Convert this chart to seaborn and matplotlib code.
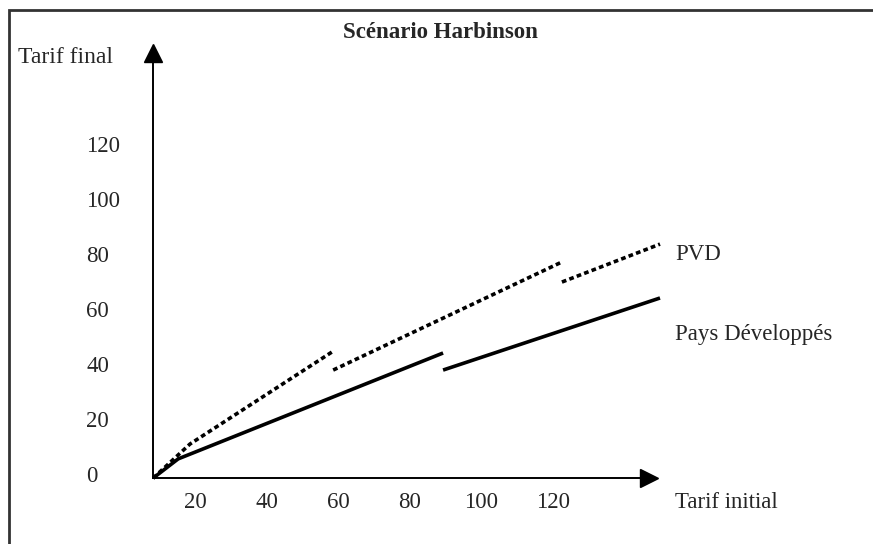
import numpy as np
import pandas as pd
import matplotlib.pyplot as plt
import matplotlib.patches as mpatches
import seaborn as sns

# values (tarif initial -> tarif final)
dev_x1 = [8.3, 15.3, 89.3]
dev_y1 = [-1.5, 5.5, 44.0]
dev_x2 = [89.3, 149.9]
dev_y2 = [37.8, 64.0]

pvd_x1 = [8.3, 18.6, 58.3]
pvd_y1 = [-1.5, 10.9, 44.4]
pvd_x2 = [58.6, 122.5]
pvd_y2 = [37.8, 77.1]
pvd_x3 = [122.5, 149.9]
pvd_y3 = [69.8, 83.6]

x_ticks = [20, 40, 60, 80, 100, 120]
y_ticks = [0, 20, 40, 60, 80, 100, 120]

# build one long table, one segment per break in the formula
def to_frame(segments, name):
    rows = []
    for i, (xs, ys) in enumerate(segments):
        for x, y in zip(xs, ys):
            rows.append({'groupe': name, 'segment': f"{name}_{i}",
                         'tarif_initial': x, 'tarif_final': y})
    return pd.DataFrame(rows)

df = pd.concat([
    to_frame([(dev_x1, dev_y1), (dev_x2, dev_y2)], 'Pays Développés'),
    to_frame([(pvd_x1, pvd_y1), (pvd_x2, pvd_y2), (pvd_x3, pvd_y3)], 'PVD'),
])

sns.set_style("white")
plt.rcParams['font.family'] = ['Liberation Serif', 'DejaVu Serif']
fs = 16.5

fig = plt.figure(figsize=(8.73, 5.44), dpi=100)
ax = fig.add_axes([0, 0, 1, 1])

for seg, sub in df.groupby('segment'):
    dotted = sub['groupe'].iloc[0] == 'PVD'
    sns.lineplot(data=sub, x='tarif_initial', y='tarif_final', ax=ax,
                 sort=False, estimator=None, color='black', lw=2.6,
                 linestyle=(0, (1.3, 0.9)) if dotted else '-',
                 solid_capstyle='butt', dash_capstyle='butt')

x0, y0 = 8.3, -1.5
ax.set_xlim(-34.47, 209.4)
ax.set_ylim(-25.45, 172.36)

# axes drawn as arrows from the origin
for s in ['top', 'right']:
    ax.spines[s].set_visible(False)
ax.spines['left'].set_position(('data', x0))
ax.spines['bottom'].set_position(('data', y0))
ax.spines['left'].set_bounds(y0, 153.5)
ax.spines['bottom'].set_bounds(x0, 146.5)
ax.spines['left'].set_linewidth(1.4)
ax.spines['bottom'].set_linewidth(1.4)
ax.spines['left'].set_color('black')
ax.spines['bottom'].set_color('black')
ax.plot([x0], [153.1], marker='^', color='black', markersize=13, clip_on=False)
ax.plot([146.8], [y0], marker='>', color='black', markersize=13, clip_on=False)

ax.set_xticks(x_ticks)
ax.set_yticks(y_ticks)
ax.set_xticklabels([str(v) for v in x_ticks], fontsize=fs)
ax.set_yticklabels([str(v) for v in y_ticks], fontsize=fs, ha='left')
ax.tick_params(axis='x', length=0, pad=10)
ax.tick_params(axis='y', length=0, pad=48)
ax.set_xlabel('')
ax.set_ylabel('')

ax.text(88.7, 160.4, 'Scénario Harbinson', fontsize=fs, fontweight='bold',
        ha='center', va='center')
ax.text(-29.4, 151.3, 'Tarif final', fontsize=fs + 0.5, ha='left', va='center')
ax.text(154.2, 80.0, 'PVD', fontsize=fs, ha='left', va='center')
ax.text(154.2, 50.9, 'Pays Développés', fontsize=fs, ha='left', va='center')
ax.text(154.2, -10.5, 'Tarif initial', fontsize=fs, ha='left', va='center')

# frame around the figure (only left and top edges are visible)
fig.add_artist(mpatches.Rectangle((9 / 873, -0.2), 1.2, 1.2 - 10 / 544,
                                  transform=fig.transFigure, fill=False,
                                  edgecolor='#333333', lw=2))

fig.savefig('out.png', dpi=100)
plt.close()
